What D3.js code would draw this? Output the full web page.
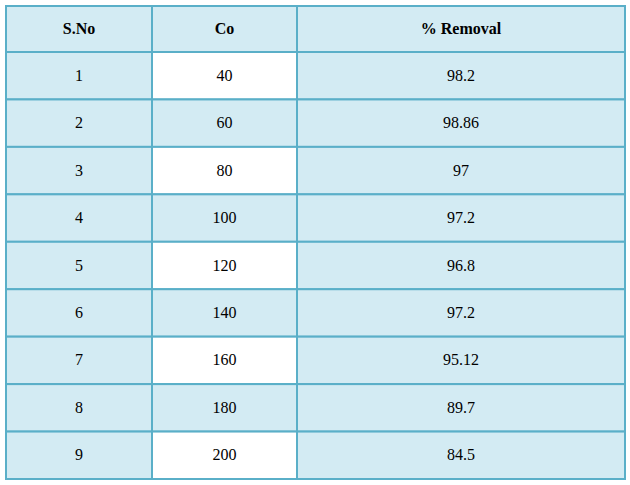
<!DOCTYPE html>
<html>
<head>
<meta charset="utf-8">
<script src="https://cdn.jsdelivr.net/npm/d3@7"></script>
<style>
body { margin: 0; background: #fff; }
</style>
</head>
<body>
<svg id="board"></svg>
<script>
let headers = ['S.No', 'Co', '% Removal']
let serialNo = ['1', '2', '3', '4', '5', '6', '7', '8', '9']
let co = ['40', '60', '80', '100', '120', '140', '160', '180', '200']
let removal = ['98.2', '98.86', '97', '97.2', '96.8', '97.2', '95.12', '89.7', '84.5']

let width = 630
let height = 485
let tLeft = 6, tRight = 625, tTop = 6, headerBottom = 52, tBottom = 479

let board = d3.select('#board').attr('width', width).attr('height', height)

let colEdges = [tLeft, 152, 297, tRight]
let rows = serialNo.map((s, i) => [s, co[i], removal[i]])

let yScale = d3.scaleBand()
    .domain(d3.range(rows.length))
    .range([headerBottom, tBottom])

let fill = '#d3ebf3'
let line = '#5aafc8'

// header
headers.forEach((h, c) => {
    board.append('rect')
        .attr('x', colEdges[c]).attr('y', tTop)
        .attr('width', colEdges[c + 1] - colEdges[c]).attr('height', headerBottom - tTop)
        .attr('fill', fill).attr('stroke', line).attr('stroke-width', 2)
    board.append('text')
        .attr('x', (colEdges[c] + colEdges[c + 1]) / 2).attr('y', (tTop + headerBottom) / 2 + 5)
        .attr('text-anchor', 'middle')
        .style('font-family', 'Liberation Serif').style('font-size', '16px').style('font-weight', 'bold')
        .text(h)
})

rows.forEach((r, i) => {
    r.forEach((v, c) => {
        let white = c == 1 && i % 2 == 0
        board.append('rect')
            .attr('x', colEdges[c]).attr('y', yScale(i))
            .attr('width', colEdges[c + 1] - colEdges[c]).attr('height', yScale.bandwidth())
            .attr('fill', white ? '#ffffff' : fill).attr('stroke', line).attr('stroke-width', 2)
        board.append('text')
            .attr('x', (colEdges[c] + colEdges[c + 1]) / 2).attr('y', yScale(i) + yScale.bandwidth() / 2 + 5)
            .attr('text-anchor', 'middle')
            .style('font-family', 'Liberation Serif').style('font-size', '16px')
            .text(v)
    })
})
</script>
</body>
</html>
